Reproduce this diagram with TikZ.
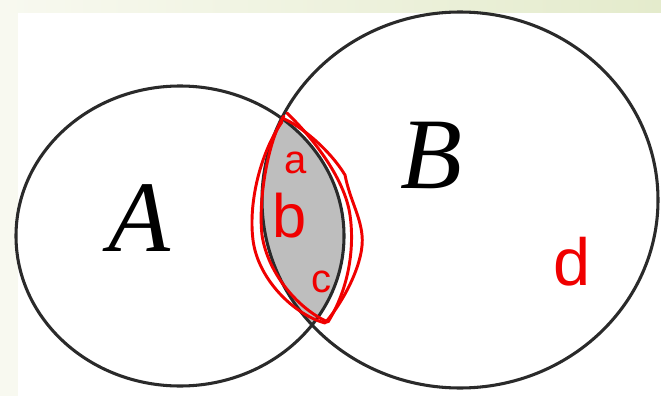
\documentclass[tikz,border=0pt]{standalone}
\usepackage{fontspec}
\setmainfont{Liberation Serif}
\newfontfamily\handfont{Liberation Sans}
\definecolor{bgcream}{HTML}{F8F9F0}
\definecolor{bggreen}{HTML}{E4EBCC}
\definecolor{lensgray}{HTML}{BEBEBE}
\definecolor{linegray}{HTML}{2A2A2A}
\definecolor{penred}{HTML}{F00000}
\begin{document}
\begin{tikzpicture}[x=0.75pt,y=-0.75pt,
  setline/.style={draw=linegray,line width=2.3pt},
  redpen/.style={draw=penred,line width=2.2pt,line cap=round,line join=round},
  biglabel/.style={font=\fontsize{76}{76}\selectfont\itshape,anchor=base,inner sep=0pt},
  handlabel/.style={font=\handfont\fontsize{30}{30}\selectfont,text=penred,inner sep=0pt}]
% background
\useasboundingbox (0,0) rectangle (661,396);
\fill[bgcream] (0,0) rectangle (661,396);
\shade[left color=bgcream,right color=bggreen] (0,0) rectangle (661,12);
\fill[white] (18,13) rectangle (661,396);
% lens fill
\begin{scope}
  \clip (180,236) ellipse [x radius=164, y radius=150];
  \fill[lensgray] (460,200) ellipse [x radius=198, y radius=188];
\end{scope}
% sets
\draw[setline] (180,236) ellipse [x radius=164, y radius=150];
\draw[setline] (460,200) ellipse [x radius=198, y radius=188];
\node[biglabel] (A) at (139,251) {A};
\node[biglabel] (B) at (431,188) {B};
% red annotations
\draw[redpen] (282,122) .. controls (262,150) and (248,200) .. (253,240)
  .. controls (258,280) and (295,315) .. (325,323)
  .. controls (345,300) and (365,260) .. (362,235)
  .. controls (360,215) and (350,200) .. (345,175)
  .. controls (330,150) and (300,125) .. (282,118);
\draw[redpen] (284,116) .. controls (268,140) and (258,200) .. (262,235)
  .. controls (268,275) and (300,310) .. (328,322)
  .. controls (348,290) and (355,250) .. (350,215)
  .. controls (345,180) and (315,140) .. (287,113);
\node[handlabel] (la) at (296,163) {a};
\node[handlabel,font=\handfont\fontsize{46}{46}\selectfont] (lb) at (290,216) {b};
\node[handlabel] (lc) at (321,282) {c};
\node[handlabel,font=\handfont\fontsize{50}{50}\selectfont] (ld) at (572,262) {d};
\end{tikzpicture}
\end{document}
